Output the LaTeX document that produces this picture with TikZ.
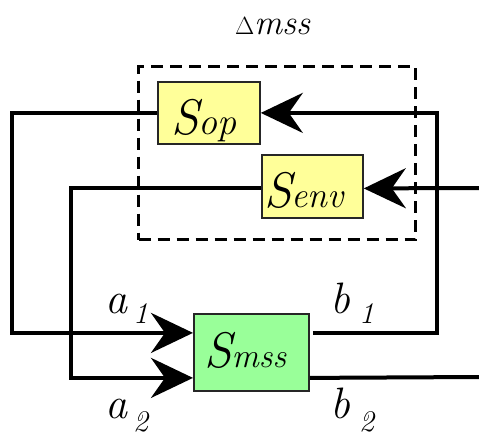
\documentclass[tikz,border=0pt]{standalone}
\usepackage{fontspec}
\usetikzlibrary{arrows.meta}
\definecolor{boxyellow}{HTML}{FFFF99}
\definecolor{boxgreen}{HTML}{99FF99}
\begin{document}
\begin{tikzpicture}[x=1pt,y=-1pt,
  blk/.style={draw=black!85,line width=1.8pt,inner sep=0pt,anchor=north west},
  wire/.style={line width=4pt},
  arr/.style={wire,-{Stealth[length=42pt,width=40pt,inset=14pt]}},
  txt/.style={inner sep=0pt,anchor=base west,font=\rmfamily\itshape},
  dbox/.style={draw,line width=3.2pt,dash pattern=on 12pt off 7pt,inner sep=0pt,anchor=north west}
]
\useasboundingbox (0,0) rectangle (479,437);
% boxes
\node[dbox,minimum width=277pt,minimum height=173pt] (delta) at (137,65) {};
\node[blk,fill=boxyellow,minimum width=102pt,minimum height=62pt] (op) at (157,81) {};
\node[blk,fill=boxyellow,minimum width=101pt,minimum height=63pt] (env) at (261,154) {};
\node[blk,fill=boxgreen,minimum width=115pt,minimum height=77pt] (mss) at (193,313) {};
% helper coordinates
\coordinate (cl) at (12,0);
\coordinate (cm) at (71,0);
\coordinate (cr) at (437,0);
\coordinate (in) at (479,188);
\coordinate (out) at (479,377);
% connectors
\draw[arr] (op.west) -- (op.west -| cl) |- ([yshift=19.5pt]mss.west);
\draw[arr] ([yshift=-2pt]env.west) -- ([yshift=-2pt]env.west -| cm) |- ([yshift=-25.5pt]mss.west);
\draw[arr] ([yshift=19.5pt,xshift=3pt]mss.east) -- ([yshift=19.5pt]mss.east -| cr) |- (op.east);
\draw[arr] (in) -- ([yshift=-2pt]env.east);
\draw[wire] ([yshift=-25.5pt]mss.east) -- (out);
% texts
\node[txt] (title) at (235,34) {\fontsize{35}{35}\selectfont{\upshape $\Delta$}mss};
\node[txt] (opt) at (171,134) {\fontsize{50}{50}\selectfont S\fontsize{38}{38}\selectfont op};
\node[txt] (envt) at (264,207) {\fontsize{50}{50}\selectfont S\fontsize{36}{36}\selectfont env};
\node[txt] (msst) at (204,367) {\fontsize{50}{50}\selectfont S\fontsize{34}{34}\selectfont mss};
\node[txt] (a1t) at (105,313) {\fontsize{44}{44}\selectfont a};
\node[txt] (a1s) at (133,323) {\fontsize{30}{30}\selectfont 1};
\node[txt] (a2t) at (105,418) {\fontsize{44}{44}\selectfont a};
\node[txt] (a2s) at (133,431) {\fontsize{30}{30}\selectfont 2};
\node[txt] (b1t) at (330,313) {\fontsize{44}{44}\selectfont b};
\node[txt] (b1s) at (359,323) {\fontsize{30}{30}\selectfont 1};
\node[txt] (b2t) at (330,418) {\fontsize{44}{44}\selectfont b};
\node[txt] (b2s) at (359,431) {\fontsize{30}{30}\selectfont 2};
\end{tikzpicture}
\end{document}
